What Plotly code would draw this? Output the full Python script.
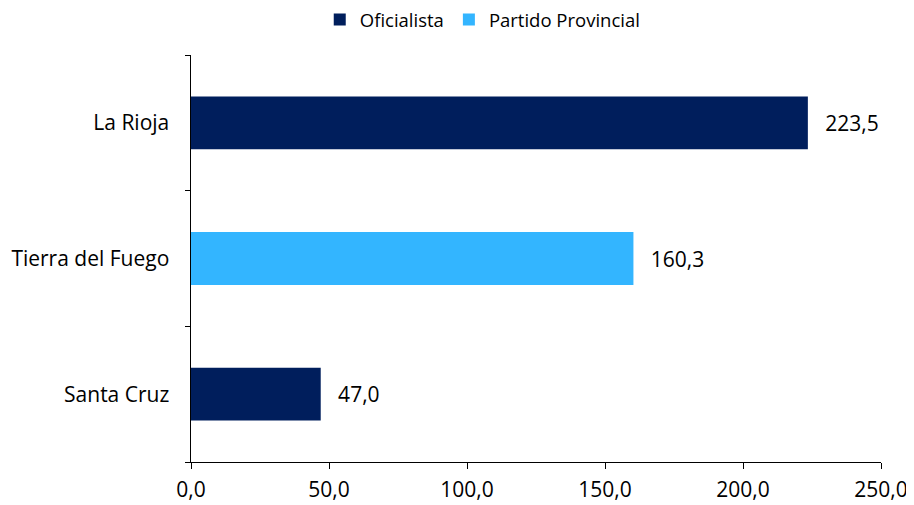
import plotly.graph_objects as go

categories = ["La Rioja", "Tierra del Fuego", "Santa Cruz"]
oficialista_cats = ["La Rioja", "Santa Cruz"]
oficialista_vals = [223.5, 47.0]
provincial_cats = ["Tierra del Fuego"]
provincial_vals = [160.3]
x_ticks = [0, 50, 100, 150, 200, 250]

FONT = "Open Sans"
FS = 21
LABEL = "  \u2009%{x:.1f}"

fig = go.Figure()
fig.add_trace(go.Bar(
    name="Oficialista", y=oficialista_cats, x=oficialista_vals, orientation="h",
    marker=dict(color="#001E5C", line=dict(width=0)),
    texttemplate=LABEL, textposition="outside", cliponaxis=False,
    textfont=dict(family=FONT, size=FS, color="#000000"),
))
fig.add_trace(go.Bar(
    name="Partido Provincial", y=provincial_cats, x=provincial_vals, orientation="h",
    marker=dict(color="#33B5FF", line=dict(width=0)),
    texttemplate=LABEL, textposition="outside", cliponaxis=False,
    textfont=dict(family=FONT, size=FS, color="#000000"),
))

# page body adds an 8px offset; figure is sized to fit the window after it
fig.update_layout(
    width=906, height=497,
    margin=dict(l=183, r=33, t=47, b=43, autoexpand=False),
    paper_bgcolor="white", plot_bgcolor="white",
    separators=",.",
    barmode="relative", bargap=0.61,
    font=dict(family=FONT, size=FS, color="#000000"),
    legend=dict(orientation="h", x=0.524, xanchor="center", xref="container",
                y=0.976, yanchor="middle", yref="container",
                font=dict(family=FONT, size=18.5), traceorder="normal",
                itemwidth=30),
    xaxis=dict(range=[0, 250], tickvals=x_ticks, tickformat=".1f", automargin=False,
               showgrid=False, zeroline=False, showline=True, linecolor="#000000",
               linewidth=1.3, ticks="outside", ticklen=6, tickcolor="#000000",
               ticklabelstandoff=3,
               tickfont=dict(family=FONT, size=FS)),
    yaxis=dict(categoryorder="array", categoryarray=categories[::-1], automargin=False,
               showgrid=False, zeroline=False, showline=True, linecolor="#000000",
               linewidth=1.3, ticks="outside", ticklen=5, tickcolor="#000000",
               tickson="boundaries", ticksuffix="   ",
               tickfont=dict(family=FONT, size=FS)),
)
fig.write_html("out.html")
